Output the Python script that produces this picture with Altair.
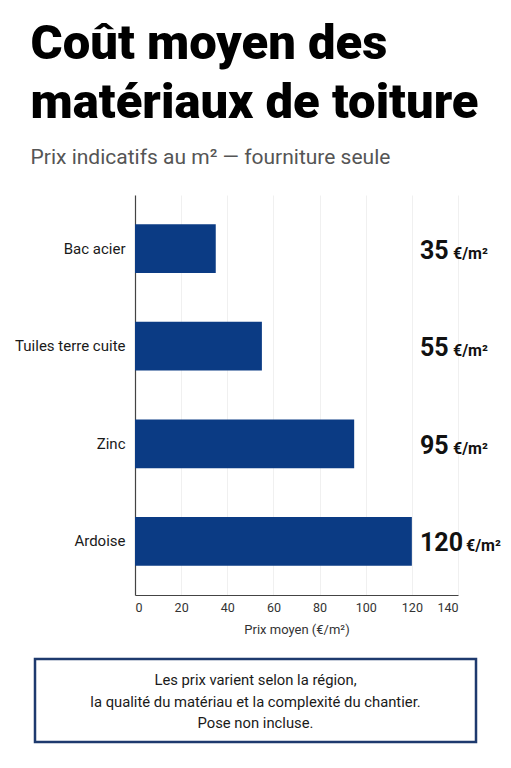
import altair as alt
import pandas as pd

materials = ["Bac acier", "Tuiles terre cuite", "Zinc", "Ardoise"]
prices = [35, 55, 95, 120]
unit_label = "€/m²"
x_ticks = [0, 20, 40, 60, 80, 100, 120, 140]
title_lines = ["Coût moyen des", "matériaux de toiture"]
subtitle_text = "Prix indicatifs au m² — fourniture seule"
x_title = "Prix moyen (€/m²)"
note_lines = [
    "Les prix varient selon la région,",
    "la qualité du matériau et la complexité du chantier.",
    "Pose non incluse.",
]

SANS = "Roboto, Liberation Sans, sans-serif"
NAVY = "#0b3b84"
INSET = 100  # room kept inside the view for the category labels

df = pd.DataFrame({"material": materials, "price": prices, "unit": [unit_label] * len(prices)})

y_enc = alt.Y(
    "material:N",
    sort=materials,
    scale=alt.Scale(paddingInner=0.5, paddingOuter=0.3),
    axis=alt.Axis(
        title=None,
        labelFont=SANS,
        labelFontSize=15,
        labelColor="#1a1a1a",
        ticks=False,
        domainColor="#444",
        domainWidth=1.2,
        labelPadding=10,
        grid=False,
        offset=-INSET,
    ),
)

base = alt.Chart(df)

bars = base.mark_bar(color=NAVY).encode(
    y=y_enc,
    x=alt.X(
        "price:Q",
        scale=alt.Scale(domain=[0, 140], nice=False, range=[INSET, INSET + 323]),
        axis=alt.Axis(
            values=x_ticks,
            title=x_title,
            grid=True,
            gridColor="#f0f0f0",
            ticks=False,
            domainColor="#444",
            domainWidth=1.2,
            labelFont=SANS,
            labelFontSize=12.5,
            labelColor="#333",
            labelPadding=6,
            titleFont=SANS,
            titleFontSize=13,
            titleFontWeight="normal",
            titleColor="#333",
            titlePadding=10,
        ),
    ),
)

nums = base.mark_text(
    align="left", baseline="alphabetic", dy=10,
    font=SANS, fontWeight="bold", fontSize=25, color="#111"
).encode(y=alt.Y("material:N", sort=materials), x=alt.value(INSET + 285), text="price:Q")

units2 = base.transform_filter("datum.price < 100").mark_text(
    align="left", baseline="alphabetic", dy=10, dx=33,
    font=SANS, fontWeight="bold", fontSize=16, color="#111"
).encode(y=alt.Y("material:N", sort=materials), x=alt.value(INSET + 285), text="unit:N")

units3 = base.transform_filter("datum.price >= 100").mark_text(
    align="left", baseline="alphabetic", dy=10, dx=46,
    font=SANS, fontWeight="bold", fontSize=16, color="#111"
).encode(y=alt.Y("material:N", sort=materials), x=alt.value(INSET + 285), text="unit:N")

main = alt.layer(bars, nums, units2, units3).properties(
    width=INSET + 323, height=400,
    view=alt.ViewBackground(stroke="transparent", strokeWidth=0),
)

note_df = pd.DataFrame({"line": note_lines, "i": list(range(len(note_lines)))})
note = alt.Chart(note_df).mark_text(
    font=SANS, fontSize=14.8, color="#1a1a1a", baseline="middle", dy=2
).encode(
    y=alt.Y("i:O", axis=None, scale=alt.Scale(padding=0.95)),
    x=alt.value(220.5),
    text="line:N",
).properties(
    width=441, height=83,
    view=alt.ViewBackground(stroke="#1e3a6e", strokeWidth=2.5),
)

chart = alt.vconcat(main, note, spacing=20).properties(
    title=alt.TitleParams(
        text=title_lines,
        subtitle=subtitle_text,
        anchor="start",
        font=SANS,
        fontSize=49,
        fontWeight=900,
        color="#000",
        lineHeight=59,
        subtitleFont=SANS,
        subtitleFontSize=21,
        subtitleColor="#555",
        subtitlePadding=19,
        offset=27,
        dx=16,
    ),
    padding={"left": 6, "top": 12, "right": 0, "bottom": 5},
).configure(background="white")

chart.save("out.html", embed_options={"renderer": "svg", "actions": False})
